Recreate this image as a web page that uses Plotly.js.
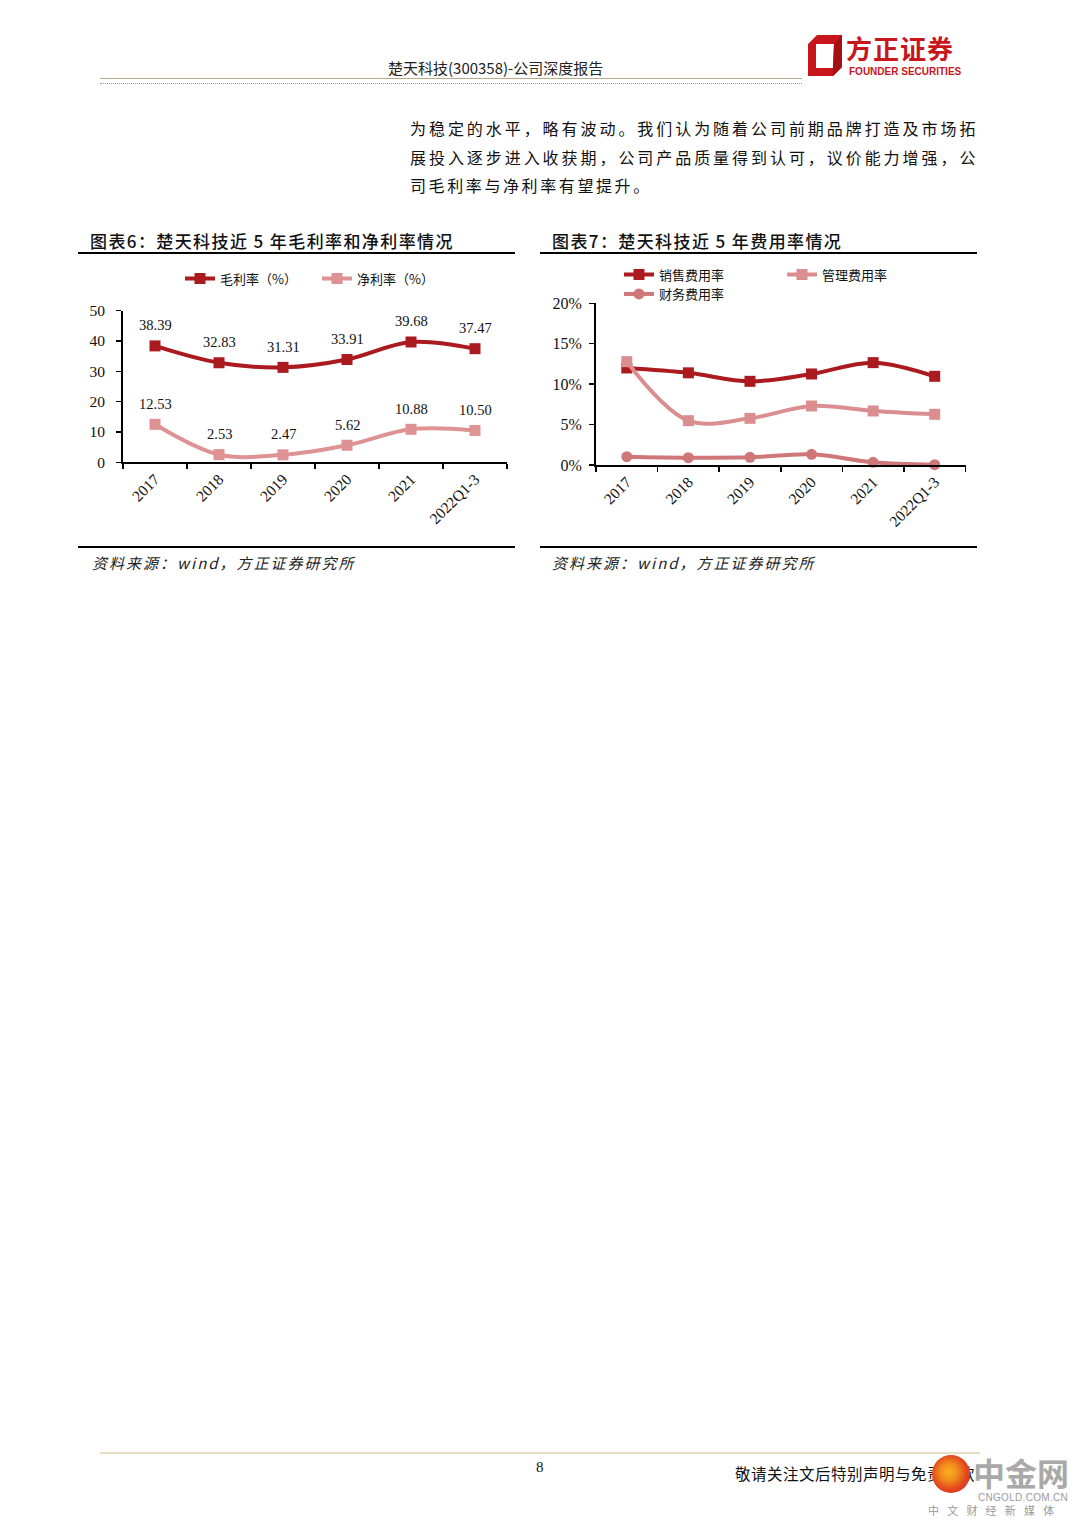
<!DOCTYPE html>
<html>
<head>
<meta charset="utf-8">
<script src="https://cdn.plot.ly/plotly-3.0.1.min.js"></script>
<style>
html,body{margin:0;padding:0;background:#fff;}
#page{position:relative;width:1080px;height:1527px;overflow:hidden;background:#fff;font-family:"Noto Sans CJK SC",sans-serif;color:#111;}
#plot{position:absolute;left:0;top:0;width:1080px;height:1527px;}
.abs{position:absolute;white-space:nowrap;}
.rule{position:absolute;background:#000;}
</style>
</head>
<body>
<div id="page">
  <!-- header -->
  <div class="abs" style="left:388px;top:60px;font-size:15px;line-height:15px;color:#222;">楚天科技(300358)-公司深度报告</div>
  <div class="rule" style="left:100px;top:78px;width:702px;height:1px;background:#b9ab8e;"></div>
  <div class="abs" style="left:100px;top:83px;width:702px;height:0;border-top:1px dotted #9a9a9a;"></div>
  <svg class="abs" style="left:806px;top:35px;" width="38" height="42" viewBox="0 0 38 42">
    <path d="M2,9 L11,0 L36,0 L36,32 L27,41 L2,41 Z M10,9 L10,33 L27,33 L28,9 Z" fill="#c8161d" fill-rule="evenodd"/>
    <path d="M28,9 L36,0 L36,32 L27,41 L27,33 Z" fill="#a51015"/>
  </svg>
  <div class="abs" style="left:846px;top:35px;font-size:26px;line-height:26px;font-weight:700;color:#c8161d;letter-spacing:1px;">方正证券</div>
  <div class="abs" style="left:849px;top:67px;font-size:10px;line-height:10px;font-weight:700;color:#c8161d;font-family:'Liberation Sans',Arial,sans-serif;">FOUNDER SECURITIES</div>

  <!-- body text -->
  <div class="abs" style="left:410px;top:119px;width:568px;font-size:16px;line-height:18px;letter-spacing:2.6px;text-align:justify;text-align-last:justify;">为稳定的水平，略有波动。我们认为随着公司前期品牌打造及市场拓</div>
  <div class="abs" style="left:410px;top:148px;width:568px;font-size:16px;line-height:18px;letter-spacing:2.6px;text-align:justify;text-align-last:justify;">展投入逐步进入收获期，公司产品质量得到认可，议价能力增强，公</div>
  <div class="abs" style="left:410px;top:176px;font-size:16px;line-height:18px;letter-spacing:2.6px;">司毛利率与净利率有望提升。</div>

  <!-- chart titles & rules -->
  <div class="abs" style="left:90px;top:231px;font-size:17px;line-height:20px;letter-spacing:1.4px;font-weight:500;">图表6：楚天科技近 5 年毛利率和净利率情况</div>
  <div class="rule" style="left:78px;top:252px;width:437px;height:2px;"></div>
  <div class="rule" style="left:78px;top:546px;width:437px;height:2px;"></div>
  <div class="abs" style="left:92px;top:553px;font-size:15px;line-height:20px;letter-spacing:2px;font-style:italic;color:#222;">资料来源：wind，方正证券研究所</div>

  <div class="abs" style="left:552px;top:231px;font-size:17px;line-height:20px;letter-spacing:1.4px;font-weight:500;">图表7：楚天科技近 5 年费用率情况</div>
  <div class="rule" style="left:540px;top:252px;width:437px;height:2px;"></div>
  <div class="rule" style="left:540px;top:546px;width:437px;height:2px;"></div>
  <div class="abs" style="left:552px;top:553px;font-size:15px;line-height:20px;letter-spacing:2px;font-style:italic;color:#222;">资料来源：wind，方正证券研究所</div>

  <div id="plot"></div>

  <!-- footer -->
  <div class="rule" style="left:100px;top:1452px;width:880px;height:2px;background:#e8dcc2;"></div>
  <div class="abs" style="left:536px;top:1459px;font-size:15px;line-height:16px;font-family:'Liberation Serif',serif;">8</div>
  <div class="abs" style="left:735px;top:1464px;font-size:15.5px;line-height:18px;letter-spacing:0.5px;">敬请关注文后特别声明与免责条款</div>
  <div class="abs" style="left:932px;top:1455px;width:38px;height:38px;border-radius:50%;background:radial-gradient(circle at 45% 45%, #f9b21e 0%, #f08a1c 30%, #e2441e 60%, #cf2a22 100%);"></div>
  <div class="abs" style="left:973px;top:1455px;font-size:32px;line-height:34px;font-weight:700;color:#a9a9a9;">中金网</div>
  <div class="abs" style="left:978px;top:1492px;font-size:10px;line-height:11px;color:#9a9a9a;font-family:'Liberation Sans',Arial,sans-serif;letter-spacing:0.3px;">CNGOLD.COM.CN</div>
  <div class="abs" style="left:928px;top:1504px;font-size:11px;line-height:12px;color:#9a9a9a;letter-spacing:8.2px;">中文财经新媒体</div>
</div>

<script>
// ---------- data ----------
const categories = ['2017', '2018', '2019', '2020', '2021', '2022Q1-3'];
const grossMargin = [38.39, 32.83, 31.31, 33.91, 39.68, 37.47];
const netMargin = [12.53, 2.53, 2.47, 5.62, 10.88, 10.50];
const sellingRate = [0.120, 0.114, 0.1035, 0.1126, 0.1266, 0.1097];
const adminRate = [0.1278, 0.0548, 0.0577, 0.073, 0.0668, 0.0627];
const financeRate = [0.0103, 0.0091, 0.0095, 0.0132, 0.0033, 0.0004];
const yTicks1 = [0, 10, 20, 30, 40, 50];
const yTicks2 = [0, 0.05, 0.10, 0.15, 0.20];
const yTickText2 = ['0%', '5%', '10%', '15%', '20%'];
const seriesNames = ['毛利率（%）', '净利率（%）', '销售费用率', '管理费用率', '财务费用率'];

// ---------- helpers ----------
const W = 1080, H = 1527;
const px = v => v / W;
const py = v => 1 - v / H;
const serif = 'Liberation Serif, Times New Roman, serif';
const cjk = 'Noto Sans CJK SC, sans-serif';
const DARK = '#ab1a1f', PINK1 = '#de9294', PINK2 = '#db8e8f', PINK3 = '#cf7679';

const traces = [
  {x: categories, y: grossMargin, name: seriesNames[0], xaxis: 'x', yaxis: 'y', legend: 'legend',
   mode: 'lines+markers', line: {color: DARK, width: 4, shape: 'spline'},
   marker: {symbol: 'square', size: 11, color: DARK}, cliponaxis: false},
  {x: categories, y: netMargin, name: seriesNames[1], xaxis: 'x', yaxis: 'y', legend: 'legend',
   mode: 'lines+markers', line: {color: PINK1, width: 4, shape: 'spline'},
   marker: {symbol: 'square', size: 11, color: PINK1}, cliponaxis: false},
  {x: categories, y: sellingRate, name: seriesNames[2], xaxis: 'x2', yaxis: 'y2', legend: 'legend2',
   mode: 'lines+markers', line: {color: DARK, width: 4, shape: 'spline'},
   marker: {symbol: 'square', size: 11, color: DARK}, cliponaxis: false},
  {x: categories, y: adminRate, name: seriesNames[3], xaxis: 'x2', yaxis: 'y2', legend: 'legend2',
   mode: 'lines+markers', line: {color: PINK2, width: 4, shape: 'spline'},
   marker: {symbol: 'square', size: 11, color: PINK2}, cliponaxis: false},
  {x: categories, y: financeRate, name: seriesNames[4], xaxis: 'x2', yaxis: 'y2', legend: 'legend3',
   mode: 'lines+markers', line: {color: PINK3, width: 4, shape: 'spline'},
   marker: {symbol: 'circle', size: 11, color: PINK3}, cliponaxis: false}
];

// data labels (category index positions on the category axis)
const annotations = [];
[grossMargin, netMargin].forEach(arr => {
  arr.forEach((v, i) => {
    annotations.push({x: i, y: v, xref: 'x', yref: 'y', text: v.toFixed(2),
      showarrow: false, yshift: 20.5, font: {family: serif, size: 14.5, color: '#111'}});
  });
});

const xBase = {
  type: 'category', autorange: false, range: [-0.5, categories.length - 0.5],
  showline: true, linecolor: '#000', linewidth: 2, ticks: 'outside',
  tickson: 'boundaries', ticklen: 5, tickwidth: 1.5, tickcolor: '#000', tickangle: -45,
  showgrid: false, zeroline: false, fixedrange: true,
  tickfont: {family: serif, size: 15.5, color: '#111'}
};
const yBase = {
  showline: true, linecolor: '#000', linewidth: 2, ticks: 'outside', ticklen: 5,
  tickwidth: 1.5, tickcolor: '#000', showgrid: false, zeroline: false, fixedrange: true
};

const legendBase = {orientation: 'h', xanchor: 'left', yanchor: 'middle', bgcolor: 'rgba(0,0,0,0)',
  borderwidth: 0, font: {family: cjk, size: 13, color: '#111'}, itemwidth: 30, tracegroupgap: 0,
  entrywidthmode: 'pixels', itemclick: false, itemdoubleclick: false};

const layout = {
  width: W, height: H, margin: {l: 0, r: 0, t: 0, b: 0},
  paper_bgcolor: 'rgba(0,0,0,0)', plot_bgcolor: 'rgba(0,0,0,0)',
  showlegend: true,
  xaxis: Object.assign({}, xBase, {domain: [px(123), px(507)], anchor: 'y'}),
  yaxis: Object.assign({}, yBase, {domain: [py(462.3), py(310.7)], range: [0, 50], autorange: false,
    tickvals: yTicks1, anchor: 'x', ticklabelstandoff: 8,
    tickfont: {family: serif, size: 15.5, color: '#111'}}),
  xaxis2: Object.assign({}, xBase, {domain: [px(596), px(965.5)], anchor: 'y2'}),
  yaxis2: Object.assign({}, yBase, {domain: [py(465), py(303.3)], range: [0, 0.2], autorange: false,
    tickvals: yTicks2, ticktext: yTickText2, anchor: 'x2', ticklabelstandoff: 4,
    tickfont: {family: serif, size: 16, color: '#111'}}),
  legend: Object.assign({}, legendBase, {x: px(180), y: py(278.5), entrywidth: 92}),
  legend2: Object.assign({}, legendBase, {x: px(619), y: py(274.5), entrywidth: 118}),
  legend3: Object.assign({}, legendBase, {x: px(619), y: py(294)}),
  annotations: annotations
};

Plotly.newPlot('plot', traces, layout, {staticPlot: true, displayModeBar: false});
</script>
</body>
</html>
